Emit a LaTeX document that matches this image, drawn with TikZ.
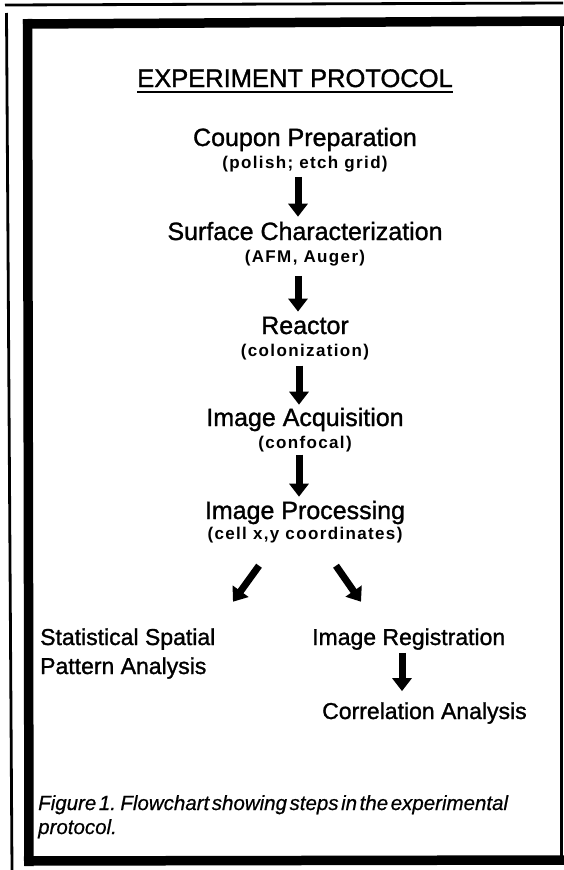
\documentclass[tikz,border=0pt]{standalone}
\usepackage{fontspec}
\setmainfont{Liberation Sans}
\newfontfamily\stepfont[FakeBold=1.2]{Liberation Sans}
\newfontfamily\subfont[LetterSpace=8]{Liberation Sans}
\newfontfamily\capfont[WordSpace=0.45,FakeBold=0.6]{Liberation Sans}
\usetikzlibrary{arrows.meta,calc}
\begin{document}
\begin{tikzpicture}[x=1pt,y=-1pt,
  titletext/.style={font=\stepfont\fontsize{25.5}{30}\selectfont, inner sep=0pt, anchor=base},
  steptext/.style={font=\stepfont\fontsize{25}{30}\selectfont, inner sep=0pt, anchor=base},
  subtext/.style={font=\subfont\bfseries\fontsize{17}{20}\selectfont, inner sep=0pt, anchor=base},
  lefttext/.style={font=\stepfont\fontsize{23}{28}\selectfont, inner sep=0pt, anchor=base west},
  captext/.style={font=\capfont\itshape\fontsize{20.5}{24}\selectfont, inner sep=0pt, anchor=base west},
  arr/.style={line width=7pt, -{Triangle[width=19pt,length=13pt]}},
  frame/.style={line width=2.8pt},
  boxline/.style={line width=9.5pt}
]
\useasboundingbox (0,0) rectangle (563,870);
% outer frame lines
\draw[frame] (5,5) -- (563,3);
\draw[frame] (6.5,13) -- (12,870);
% inner box
\draw[boxline] (23,24) -- (567,21);
\draw[boxline] (27.5,19) -- (29,866);
\draw[boxline] (24,861) -- (567,860);
\draw[line width=2.5pt] (561.5,22) -- (561.5,858);

% title
\node[titletext] (title) at (295,87) {EXPERIMENT PROTOCOL};
\draw[line width=2pt] ($(title.base west)+(0,4.5)$) -- ($(title.base east)+(0,4.5)$);

% steps
\node[steptext] (coupon) at (305,146) {Coupon Preparation};
\node[subtext] (polish) at (305,168) {(polish; etch grid)};
\node[steptext] (surface) at (305,240) {Surface Characterization};
\node[subtext] (afm) at (305,262) {(AFM, Auger)};
\node[steptext] (reactor) at (305,334) {Reactor};
\node[subtext] (colon) at (305,356) {(colonization)};
\node[steptext] (acq) at (305,426) {Image Acquisition};
\node[subtext] (confocal) at (305,448) {(confocal)};
\node[steptext] (proc) at (305,519) {Image Processing};
\node[subtext] (cell) at (305,539) {(cell x,y coordinates)};

\node[lefttext] (stat1) at (40,645) {Statistical Spatial};
\node[lefttext] (stat2) at (40,674) {Pattern Analysis};
\node[lefttext] (reg) at (312,645) {Image Registration};
\node[lefttext] (corr) at (322,719) {Correlation Analysis};

% arrow anchor points
\coordinate (a1) at ($(polish.south)+(-7,0)$);
\coordinate (a2) at ($(afm.south)+(-7,0)$);
\coordinate (a3) at ($(colon.south)+(-6,0)$);
\coordinate (a4) at ($(confocal.south)+(-6,0)$);
\coordinate (dl) at ($(cell.south)+(-46,23)$);
\coordinate (dr) at ($(cell.south)+(31,23)$);
\coordinate (rg) at ($(reg.south west)+(90,0)$);

% arrows
\draw[arr, shorten <=5pt, shorten >=5pt] (a1) -- (a1 |- surface.north);
\draw[arr, shorten <=10pt, shorten >=5pt] (a2) -- (a2 |- reactor.north);
\draw[arr, shorten <=6pt, shorten >=3pt] (a3) -- (a3 |- acq.north);
\draw[arr, shorten <=3pt, shorten >=4pt] (a4) -- (a4 |- proc.north);
\draw[arr] (dl) -- ($(dl)+(-26,36)$);
\draw[arr] (dr) -- ($(dr)+(25,36)$);
\draw[arr, shorten <=3pt, shorten >=11pt] (rg) -- (rg |- corr.north);

% caption
\node[captext] (cap1) at (38,810) {Figure 1. Flowchart showing steps in the experimental};
\node[captext] (cap2) at (38,834) {protocol.};
\end{tikzpicture}
\end{document}
